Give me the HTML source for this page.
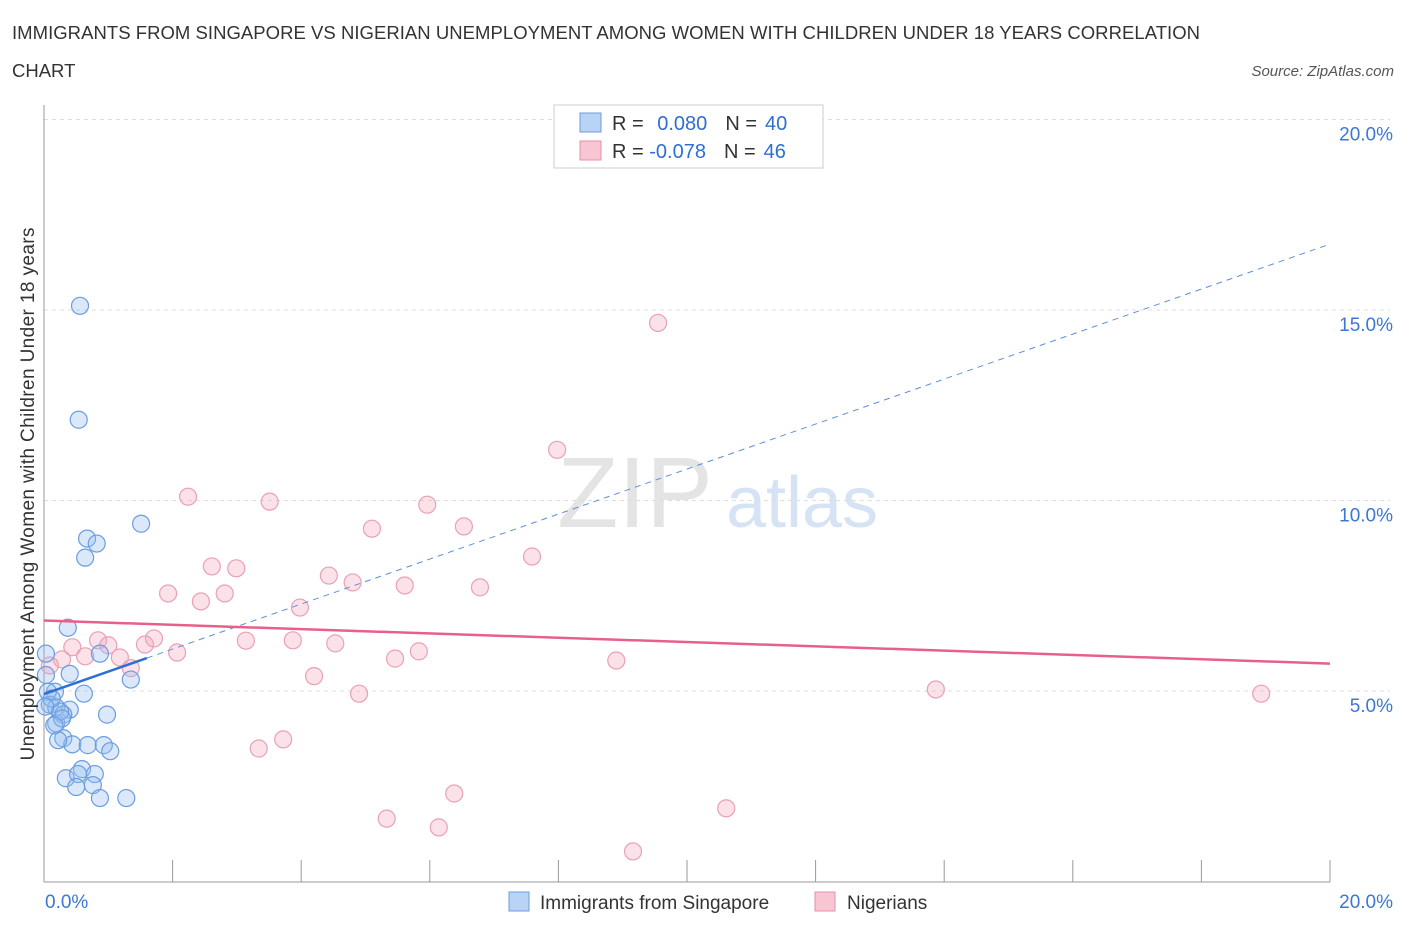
<!DOCTYPE html>
<html><head><meta charset="utf-8"><style>
body{margin:0;background:#fff;font-family:"Liberation Sans",sans-serif;}
svg text{font-family:"Liberation Sans",sans-serif;}
</style></head><body>
<svg id="c" width="1406" height="930" xmlns="http://www.w3.org/2000/svg">
<text x="12" y="39" font-size="18.5" fill="#333" textLength="1188">IMMIGRANTS FROM SINGAPORE VS NIGERIAN UNEMPLOYMENT AMONG WOMEN WITH CHILDREN UNDER 18 YEARS CORRELATION</text>
<text x="12" y="77" font-size="18.5" fill="#333">CHART</text>
<text x="1394" y="76" font-size="15" fill="#555" font-style="italic" text-anchor="end">Source: ZipAtlas.com</text>
<text x="635" y="527" font-size="100" fill="#e4e4e4" font-family="Liberation Serif" text-anchor="middle">ZIP</text>
<text x="802" y="527" font-size="72" fill="#d5e3f5" text-anchor="middle">atlas</text>
<g id="grid"></g><g id="marks"></g>
<text x="34" y="494" font-size="19" fill="#333" text-anchor="middle" textLength="533" transform="rotate(-90 34 494)">Unemployment Among Women with Children Under 18 years</text>
<rect x="554" y="105" width="269" height="63" fill="#fff" stroke="#ccc"/>
<rect x="580" y="113" width="21" height="19" fill="#b9d3f5" stroke="#6a9de0"/>
<rect x="580" y="141" width="21" height="19" fill="#f8c6d3" stroke="#e88fa8"/>
<text x="612" y="130" font-size="20" fill="#333">R = <tspan fill="#2e6fd4" dx="8">0.080</tspan><tspan dx="18" fill="#333">N =</tspan><tspan dx="8" fill="#2e6fd4">40</tspan></text>
<text x="612" y="158" font-size="20" fill="#333">R = <tspan fill="#2e6fd4">-0.078</tspan><tspan dx="18" fill="#333">N =</tspan><tspan dx="8" fill="#2e6fd4">46</tspan></text>
<rect x="509" y="892" width="20" height="19" fill="#b9d3f5" stroke="#6a9de0"/>
<text x="540" y="909" font-size="19" fill="#333">Immigrants from Singapore</text>
<rect x="815" y="892" width="20" height="19" fill="#f8c6d3" stroke="#e88fa8"/>
<text x="847" y="909" font-size="19" fill="#333">Nigerians</text>
</svg>
<script>
const yTicks=[5,10,15,20];
const xTickLabels=["0.0%","20.0%"];
const blueX=[0.56,0.54,1.51,0.67,0.82,0.64,0.37,0.87,0.03,0.40,1.35,0.17,0.62,0.06,0.09,0.19,0.40,0.30,0.98,0.19,0.30,0.44,0.68,0.93,1.03,0.59,0.79,0.34,0.53,0.50,0.76,0.87,1.28,0.25,0.03,0.12,0.22,0.28,0.02,0.16];
const blueY=[15.11,12.12,9.39,9.00,8.87,8.50,6.66,5.98,5.98,5.45,5.30,4.98,4.93,4.98,4.64,4.57,4.51,4.38,4.38,4.15,3.76,3.60,3.58,3.58,3.42,2.95,2.82,2.71,2.82,2.48,2.53,2.19,2.19,4.46,5.42,4.80,3.71,4.28,4.59,4.10];
const pinkX=[9.55,7.98,2.24,3.51,5.96,5.10,6.53,7.59,2.61,2.99,4.43,4.80,5.61,6.78,1.93,2.81,2.44,3.98,1.71,3.14,4.53,0.84,1.00,3.87,1.57,2.07,5.83,0.44,0.64,1.18,0.28,8.90,5.46,0.09,1.35,4.20,13.87,18.93,4.90,3.72,3.34,6.38,10.61,5.33,6.14,9.16];
const pinkY=[14.66,11.33,10.10,9.97,9.89,9.26,9.32,8.53,8.27,8.22,8.03,7.85,7.77,7.72,7.56,7.56,7.35,7.19,6.38,6.32,6.25,6.33,6.20,6.33,6.22,6.01,6.04,6.15,5.91,5.88,5.83,5.80,5.85,5.67,5.60,5.39,5.04,4.93,4.93,3.73,3.49,2.31,1.92,1.65,1.42,0.79];
const blueTrend=[4.92,16.73];
const pinkTrend=[6.85,5.72];
const NS="http://www.w3.org/2000/svg";
const X0=44,X1=1330,Yb=881.5,PPU=38.1;
const sx=v=>X0+(X1-X0)*v/20, sy=v=>Yb-v*PPU;
function mk(t,a,p){const e=document.createElementNS(NS,t);for(const k in a)e.setAttribute(k,a[k]);p.appendChild(e);return e;}
const g=document.getElementById('grid'),m=document.getElementById('marks');
yTicks.forEach(v=>{
 const l=mk('line',{x1:X0,x2:1390,y1:sy(v),y2:sy(v),stroke:'#ddd','stroke-dasharray':'4,4'},g);
 
 
 const t=mk('text',{x:1393,y:sy(v)+21,'font-size':19,fill:'#3a78d4','text-anchor':'end'},g);t.textContent=v.toFixed(1)+'%';
 
 
});
const ax=mk('line',{x1:X0,x2:X0,y1:105,y2:882,stroke:'#999'},g);


const bx=mk('line',{x1:X0,x2:X1,y1:882,y2:882,stroke:'#999'},g);


for(let i=0;i<=10;i++){const tk=mk('line',{x1:sx(i*2),x2:sx(i*2),y1:860,y2:882,stroke:'#999'},g);
 
 }
xTickLabels.forEach((s,i)=>{const t=mk('text',{x:i?1393:45,y:908,'font-size':19,fill:'#3a78d4','text-anchor':i?'end':'start'},g);t.textContent=s;
 
 });
pinkX.forEach((x,i)=>{const c=mk('circle',{cx:sx(x),cy:sy(pinkY[i]),r:8.5,fill:'rgba(244,170,190,0.35)',stroke:'#eaa0b6','stroke-width':1.2},m);
 
 });
blueX.forEach((x,i)=>{const c=mk('circle',{cx:sx(x),cy:sy(blueY[i]),r:8.5,fill:'rgba(150,190,240,0.35)',stroke:'#6a9de0','stroke-width':1.2},m);
 
 });
const bt=v=>blueTrend[0]+(blueTrend[1]-blueTrend[0])*v/20;
const l1=mk('line',{x1:sx(0),y1:sy(bt(0)),x2:sx(1.6),y2:sy(bt(1.6)),stroke:'#2e6fd4','stroke-width':2.5},m);


const l2=mk('line',{x1:sx(1.6),y1:sy(bt(1.6)),x2:sx(20),y2:sy(bt(20)),stroke:'#5b8fdc','stroke-width':1,'stroke-dasharray':'6,5'},m);


const l3=mk('line',{x1:sx(0),y1:sy(pinkTrend[0]),x2:sx(20),y2:sy(pinkTrend[1]),stroke:'#e8608a','stroke-width':2.5},m);


</script>
</body></html>
